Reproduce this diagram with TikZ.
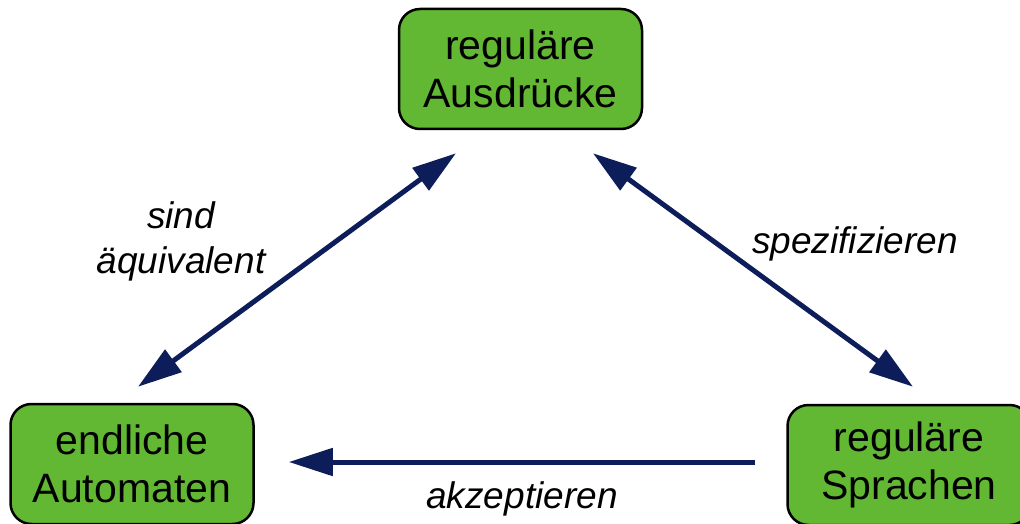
\documentclass[tikz,border=0pt]{standalone}
\usepackage{fontspec}
\setmainfont{Liberation Sans}
\usetikzlibrary{arrows.meta}
\definecolor{boxgreen}{RGB}{98,184,50}
\definecolor{navy}{RGB}{12,29,90}
\tikzset{
  box/.style={draw=black, line width=2.5pt, fill=boxgreen, rounded corners=21pt,
    minimum width=243pt, minimum height=120pt, inner sep=0pt, align=center,
    font=\fontsize{41}{48}\selectfont},
  lab/.style={font=\fontsize{37}{45}\selectfont\itshape, align=center, inner sep=0pt},
  conn/.style={draw=navy, line width=5pt},
  tipL/.style={-{Triangle[length=44pt,width=27pt]}},
  tipLR/.style={{Triangle[length=44pt,width=27pt]}-{Triangle[length=44pt,width=27pt]}}
}
\begin{document}
\begin{tikzpicture}[x=1pt,y=1pt]
\useasboundingbox (0,0) rectangle (1020,-524);
\node[box] (ra) at (520.5,-69) {reguläre\\Ausdrücke};
\node[box] (ea) at (132,-464) {endliche\\Automaten};
\node[box] (rs) at (909,-465) {reguläre\\Sprachen};
\draw[conn,tipLR] ([xshift=-64.5pt,yshift=-23pt]ra.south) -- ([xshift=6pt,yshift=16pt]ea.north);
\draw[conn,tipLR] ([xshift=72.5pt,yshift=-23pt]ra.south) -- ([xshift=4pt,yshift=17pt]rs.north);
\draw[conn,tipL] ([xshift=-31pt,yshift=3pt]rs.west) -- ([xshift=34pt,yshift=2pt]ea.east);
\node[lab, anchor=base] (l1) at (181,-228) {sind};
\node[lab, anchor=base] (l2) at (181,-273) {äquivalent};
\node[lab, anchor=base] (l3) at (855,-253) {spezifizieren};
\node[lab, anchor=base] (l4) at (522,-508) {akzeptieren};
\end{tikzpicture}
\end{document}
